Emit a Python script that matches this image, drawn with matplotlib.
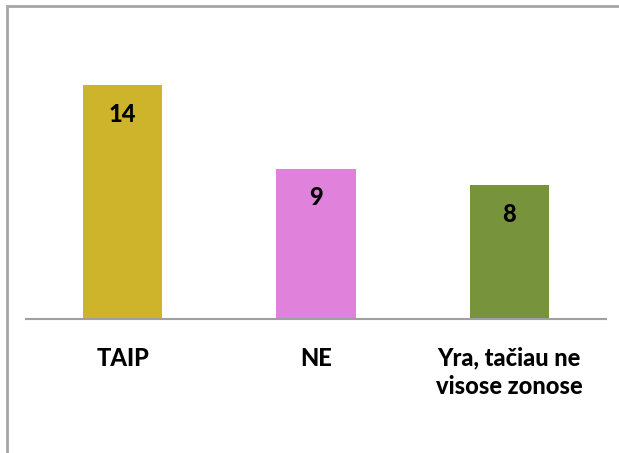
import matplotlib
matplotlib.use("Agg")
import matplotlib.pyplot as plt
from matplotlib.patches import Rectangle

categories = ["TAIP", "NE", "Yra, tačiau ne\nvisose zonose"]
values = [14, 9, 8]
colors = ["#CDB42B", "#E082DC", "#77933C"]

plt.rcParams['font.family'] = ['Lato', 'DejaVu Sans']

fig = plt.figure(figsize=(6.19, 4.53), dpi=100)
# outer chart border (top and left visible)
fig.patches.append(Rectangle((7/619, -0.1), 1.2, (453-6)/453 + 0.1, transform=fig.transFigure,
                             fill=False, edgecolor="#A6A6A6", linewidth=2, zorder=0))

ax = fig.add_axes([26/619, 134/453, 580/619, 267/453])
x = range(len(categories))
bars = ax.bar(x, values, width=0.41, color=colors, zorder=2)
ax.set_xlim(-0.5, 2.5)
ax.set_ylim(0, 16)
for s in ["top", "right", "left"]:
    ax.spines[s].set_visible(False)
ax.spines["bottom"].set_color("#A0A0A0")
ax.spines["bottom"].set_linewidth(1.5)
ax.set_yticks([])
ax.set_xticks(list(x))
ax.set_xticklabels(categories, fontsize=17, fontweight="black", linespacing=1.25, va="top")
ax.tick_params(axis="x", length=0, pad=20)
ax.patch.set_alpha(0)

for xi, v in zip(x, values):
    ax.annotate(str(v), (xi, v), xytext=(0, -21), textcoords="offset points",
                ha="center", va="center", fontsize=17, fontweight="black")

fig.savefig("out.png", dpi=100)
